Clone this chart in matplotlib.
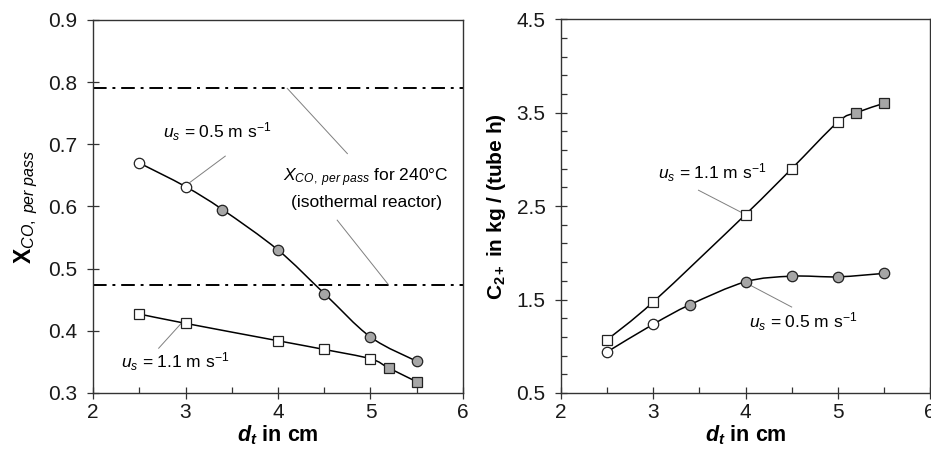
import matplotlib
matplotlib.use("Agg")
import matplotlib.pyplot as plt
import numpy as np
from matplotlib.path import Path
from matplotlib.patches import PathPatch
from matplotlib.ticker import MultipleLocator

plt.rcParams["font.family"] = "Liberation Sans"
plt.rcParams["mathtext.fontset"] = "custom"
plt.rcParams["mathtext.rm"] = "Liberation Sans"
plt.rcParams["mathtext.it"] = "Liberation Sans:italic"
plt.rcParams["mathtext.bf"] = "Liberation Sans:bold"
plt.rcParams["mathtext.bfit"] = "Liberation Sans:bold:italic"

# left panel: CO conversion per pass
dt_05_left = [2.5, 3.0, 3.4, 4.0, 4.5, 5.0, 5.5]
x_co_05 = [0.670, 0.632, 0.595, 0.530, 0.460, 0.390, 0.351]
filled_05_left = [False, False, True, True, True, True, True]
dt_11_left = [2.5, 3.0, 4.0, 4.5, 5.0, 5.2, 5.5]
x_co_11 = [0.427, 0.412, 0.384, 0.370, 0.355, 0.340, 0.318]
filled_11_left = [False, False, False, False, False, True, True]
x_co_iso = [0.790, 0.474]

# right panel: C2+ productivity
dt_11_right = [2.5, 3.0, 4.0, 4.5, 5.0, 5.2, 5.5]
c2_11 = [1.07, 1.475, 2.41, 2.90, 3.40, 3.50, 3.60]
filled_11_right = [False, False, False, False, False, True, True]
dt_05_right = [2.5, 3.0, 3.4, 4.0, 4.5, 5.0, 5.5]
c2_05 = [0.94, 1.236, 1.446, 1.69, 1.75, 1.743, 1.78]
filled_05_right = [False, False, True, True, True, True, True]

GRAY = "#a6a6a6"
SPINE = "#333333"
LEADER = "#7f7f7f"


def smooth_path(x, y):
    # Catmull-Rom style smoothed line through the data points
    p = np.column_stack([x, y]).astype(float)
    n = len(p)
    verts = [p[0]]
    codes = [Path.MOVETO]
    for i in range(n - 1):
        p0 = p[max(i - 1, 0)]
        p1 = p[i]
        p2 = p[i + 1]
        p3 = p[min(i + 2, n - 1)]
        verts += [p1 + (p2 - p0) / 6, p2 - (p3 - p1) / 6, p2]
        codes += [Path.CURVE4] * 3
    return Path(verts, codes)


def draw_series(ax, x, y, filled, marker):
    ax.add_patch(PathPatch(smooth_path(x, y), facecolor="none",
                           edgecolor="black", lw=1.1, zorder=2))
    x = np.asarray(x)
    y = np.asarray(y)
    f = np.asarray(filled)
    ax.plot(x[~f], y[~f], ls="none", marker=marker, ms=7.5, mfc="white",
            mec="#222222", mew=0.9, zorder=3)
    ax.plot(x[f], y[f], ls="none", marker=marker, ms=7.5, mfc=GRAY,
            mec="#222222", mew=0.9, zorder=3)


def style_axes(ax):
    for s in ax.spines.values():
        s.set_color(SPINE)
        s.set_linewidth(1.0)
    ax.tick_params(which="major", direction="inout", length=8.5, width=0.9,
                   color=SPINE, labelsize=15, labelcolor="#1a1a1a")
    ax.tick_params(which="minor", direction="in", length=4, width=0.9,
                   color=SPINE)
    ax.tick_params(axis="y", which="major", pad=7)
    ax.tick_params(axis="x", which="major", pad=3)


def leader(ax, x0, y0, x1, y1):
    ax.plot([x0, x1], [y0, y1], color=LEADER, lw=0.7, zorder=1)


fig = plt.figure(figsize=(9.31, 4.53), dpi=100)
ax1 = fig.add_axes([0.0999, 0.1325, 0.3974, 0.8234])
ax2 = fig.add_axes([0.6026, 0.1325, 0.3964, 0.8250])

# ---- left panel ----
for yv in x_co_iso:
    ax1.axhline(yv, color="black", lw=1.4, ls=(0, (7, 3, 1.5, 3)), zorder=1)
draw_series(ax1, dt_05_left, x_co_05, filled_05_left, "o")
draw_series(ax1, dt_11_left, x_co_11, filled_11_left, "s")

ax1.set_xlim(2, 6)
ax1.set_ylim(0.3, 0.9)
ax1.xaxis.set_major_locator(MultipleLocator(1))
ax1.xaxis.set_minor_locator(MultipleLocator(0.5))
ax1.yaxis.set_major_locator(MultipleLocator(0.1))
ax1.yaxis.set_major_formatter(plt.FuncFormatter(lambda v, p: f"{v:.1f}"))
style_axes(ax1)

ax1.set_xlabel(r"$\mathbfit{d}_{\mathbfit{t}}$ in cm", fontsize=15.5,
               fontweight="bold", labelpad=1)
ax1.set_ylabel(r"$\mathbf{X}_{\mathit{CO,\ per\ pass}}$", fontsize=16.5,
               labelpad=6)

ax1.text(3.34, 0.72, r"$u_s$ = 0.5 m s$^{-1}$", fontsize=12.5,
         ha="center", va="center")
leader(ax1, 3.05, 0.639, 3.43, 0.681)
ax1.text(2.89, 0.35, r"$u_s$ = 1.1 m s$^{-1}$", fontsize=12.5,
         ha="center", va="center")
leader(ax1, 2.96, 0.413, 2.71, 0.372)
ax1.text(4.95, 0.647, r"$X_{CO,\ per\ pass}$ for 240°C", fontsize=12.5,
         ha="center", va="center")
ax1.text(4.96, 0.607, "(isothermal reactor)", fontsize=12.5,
         ha="center", va="center")
leader(ax1, 4.10, 0.790, 4.75, 0.685)
leader(ax1, 4.64, 0.578, 5.19, 0.475)

# ---- right panel ----
draw_series(ax2, dt_11_right, c2_11, filled_11_right, "s")
draw_series(ax2, dt_05_right, c2_05, filled_05_right, "o")

ax2.set_xlim(2, 6)
ax2.set_ylim(0.5, 4.5)
ax2.xaxis.set_major_locator(MultipleLocator(1))
ax2.xaxis.set_minor_locator(MultipleLocator(0.5))
ax2.yaxis.set_major_locator(MultipleLocator(1, offset=0.5))
ax2.yaxis.set_minor_locator(MultipleLocator(0.2, offset=0.1))
ax2.yaxis.set_major_formatter(plt.FuncFormatter(lambda v, p: f"{v:.1f}"))
style_axes(ax2)

ax2.set_xlabel(r"$\mathbfit{d}_{\mathbfit{t}}$ in cm", fontsize=15.5,
               fontweight="bold", labelpad=1)
ax2.set_ylabel(r"C$_{\mathbf{2+}}$ in kg / (tube h)", fontsize=15,
               fontweight="bold", labelpad=6)

ax2.text(3.64, 2.86, r"$u_s$ = 1.1 m s$^{-1}$", fontsize=12.5,
         ha="center", va="center")
leader(ax2, 3.49, 2.67, 3.96, 2.43)
ax2.text(4.62, 1.26, r"$u_s$ = 0.5 m s$^{-1}$", fontsize=12.5,
         ha="center", va="center")
leader(ax2, 4.00, 1.68, 4.50, 1.42)

fig.savefig("out.png", dpi=100)
